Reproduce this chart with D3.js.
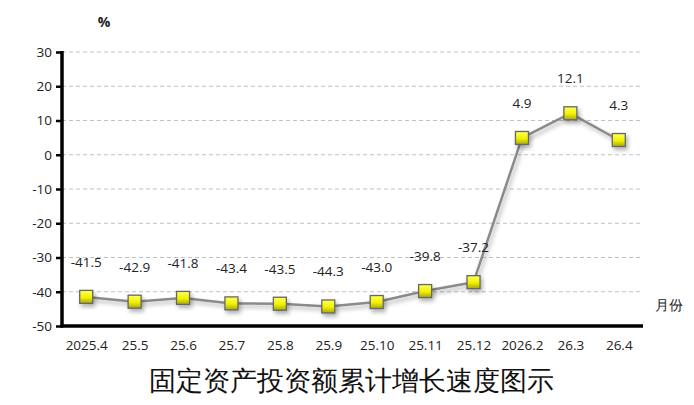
<!DOCTYPE html>
<html><head><meta charset="utf-8">
<script src="https://cdn.jsdelivr.net/npm/d3@7/dist/d3.min.js"></script>
<style>
body{margin:0;background:#fff;}
text{font-family:"Open Sans","Liberation Sans",sans-serif;}
</style></head>
<body><svg id="c" width="694" height="405"></svg>
<script>
const categories=["2025.4","25.5","25.6","25.7","25.8","25.9","25.10","25.11","25.12","2026.2","26.3","26.4"];
const values=[-41.5,-42.9,-41.8,-43.4,-43.5,-44.3,-43.0,-39.8,-37.2,4.9,12.1,4.3];
const labels=["-41.5","-42.9","-41.8","-43.4","-43.5","-44.3","-43.0","-39.8","-37.2","4.9","12.1","4.3"];
const yTicks=[30,20,10,0,-10,-20,-30,-40,-50];
const title="固定资产投资额累计增长速度图示";

const svg=d3.select("#c");
const L=62,R=643,T=52,B=326;
const x=d3.scalePoint().domain(categories).range([L,R]).padding(0.5);
const y=d3.scaleLinear().domain([-50,30]).range([B,T]);

const defs=svg.append("defs");
const g=defs.append("linearGradient").attr("id","yg").attr("x1",0).attr("y1",0).attr("x2",0).attr("y2",1);
g.append("stop").attr("offset","0%").attr("stop-color","#ffff66");
g.append("stop").attr("offset","55%").attr("stop-color","#f0f000");
g.append("stop").attr("offset","100%").attr("stop-color","#a8a800");
const f=defs.append("filter").attr("id","sh").attr("x","-50%").attr("y","-50%").attr("width","200%").attr("height","200%");
f.append("feDropShadow").attr("dx",2).attr("dy",3).attr("stdDeviation",2).attr("flood-color","#000").attr("flood-opacity",0.3);

// grid
svg.append("g").selectAll("line").data(yTicks.filter(d=>d>-50)).join("line")
 .attr("x1",L).attr("x2",R).attr("y1",d=>y(d)).attr("y2",d=>y(d))
 .attr("stroke","#c0c0c0").attr("stroke-width",1).attr("stroke-dasharray","4,3");

// y axis
const ya=svg.append("g").attr("transform",`translate(${L},0)`)
 .call(d3.axisLeft(y).tickValues(yTicks).tickSize(6).tickPadding(4).tickFormat(d=>String(d)));
ya.select(".domain").remove();
ya.selectAll(".tick line").attr("stroke","#000").attr("stroke-width",2.5);
ya.selectAll(".tick text").attr("font-size",13.5).attr("fill","#222").attr("font-family","Open Sans, sans-serif");
svg.append("line").attr("x1",L).attr("x2",L).attr("y1",T-1).attr("y2",B+1.5).attr("stroke","#000").attr("stroke-width",3.5);

// x axis
const xa=svg.append("g").attr("transform",`translate(0,${B})`)
 .call(d3.axisBottom(x).tickSize(0).tickPadding(14));
xa.select(".domain").remove();
xa.selectAll(".tick text").attr("font-size",13.5).attr("fill","#222").attr("font-family","Open Sans, sans-serif");
svg.append("line").attr("x1",L-1.5).attr("x2",R).attr("y1",B).attr("y2",B).attr("stroke","#000").attr("stroke-width",3.5);

// line
const line=d3.line().x((d,i)=>x(categories[i])).y(d=>y(d)).curve(d3.curveLinear);
svg.append("path").datum(values).attr("d",line).attr("fill","none")
 .attr("stroke","#8a8a8a").attr("stroke-width",2.5).attr("stroke-linejoin","round").attr("filter","url(#sh)");

// markers
svg.append("g").selectAll("rect").data(values).join("rect")
 .attr("x",(d,i)=>x(categories[i])-6.5).attr("y",d=>y(d)-6.5)
 .attr("width",13).attr("height",13)
 .attr("fill","url(#yg)").attr("stroke","#666").attr("stroke-width",1.3).attr("filter","url(#sh)");

// data labels
svg.append("g").selectAll("text").data(values).join("text")
 .attr("x",(d,i)=>x(categories[i])).attr("y",d=>y(d)-30)
 .attr("text-anchor","middle").attr("font-size",13.5).attr("fill","#222")
 .text((d,i)=>labels[i]);

svg.append("text").attr("x",104).attr("y",27).attr("text-anchor","middle")
 .attr("font-size",14).attr("font-weight","bold").attr("fill","#222").text("%");
svg.append("text").attr("x",655).attr("y",310).attr("text-anchor","start")
 .attr("font-size",13.5).attr("fill","#222").attr("font-family","Noto Sans CJK SC").text("月份");
svg.append("text").attr("x",351).attr("y",390).attr("text-anchor","middle")
 .attr("font-size",27).attr("fill","#111").attr("font-family","Noto Sans CJK SC").text(title);
</script></body></html>
